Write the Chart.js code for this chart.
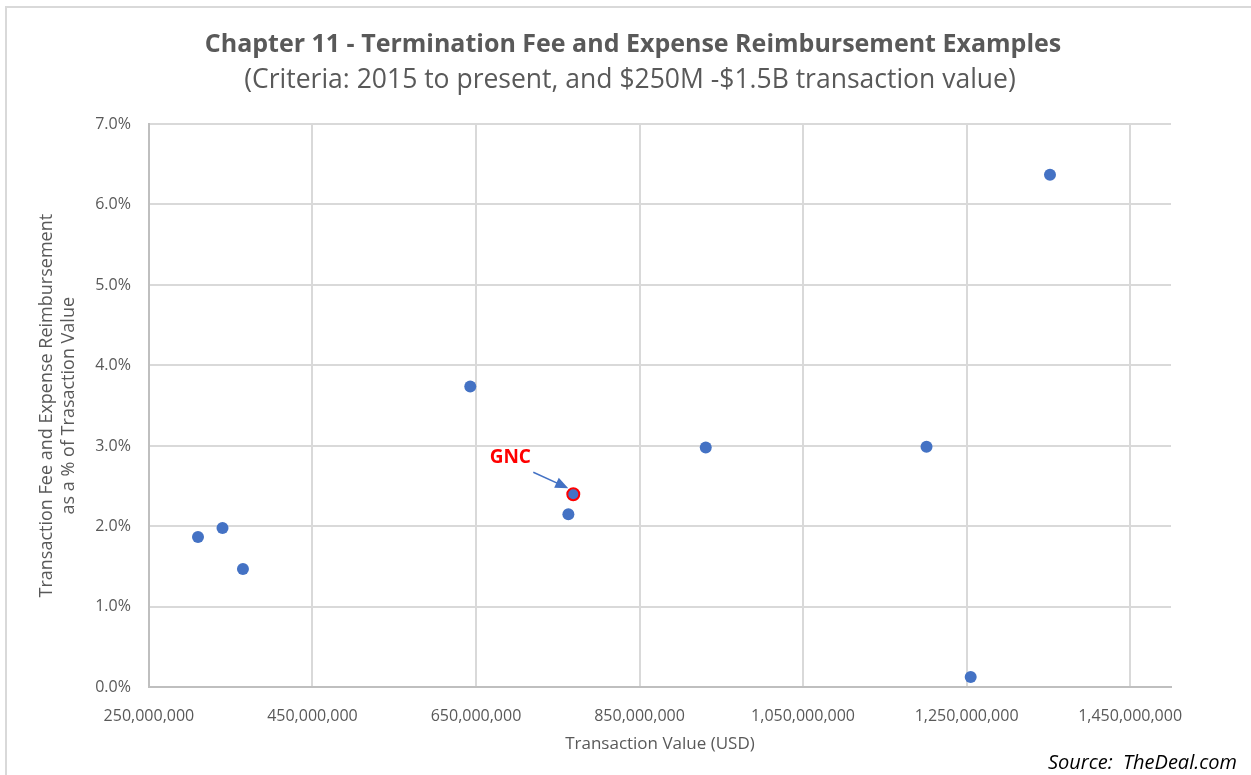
<!DOCTYPE html>
<html>
<head>
<meta charset="utf-8">
<script src="https://cdn.jsdelivr.net/npm/chart.js@4/dist/chart.umd.min.js"></script>
<style>
    html, body { margin: 0; padding: 0; background: #ffffff; }
    #wrap { position: relative; width: 1251px; height: 775px; }
</style>
</head>
<body>
<div id="wrap"><canvas id="myChart" width="1251" height="775"></canvas></div>
<script>
// deal values (USD) and fee as % of transaction value
var dealValues = [310000000, 340000000, 365000000, 643000000, 763000000, 769000000, 931000000, 1201000000, 1255000000, 1352000000];
var feePercents = [1.87, 1.98, 1.47, 3.74, 2.15, 2.40, 2.98, 2.99, 0.13, 6.37];
var dealNames = ["", "", "", "", "", "GNC", "", "", "", ""];
var xTickValues = [250000000, 450000000, 650000000, 850000000, 1050000000, 1250000000, 1450000000];
var yTickValues = [0, 1, 2, 3, 4, 5, 6, 7];

var chartTitle = "Chapter 11 - Termination Fee and Expense Reimbursement Examples";
var chartSubtitle = "(Criteria: 2015 to present, and $250M -$1.5B transaction value)";
var sourceNote = "Source:  TheDeal.com";

var TEXT_GREY = "#595959";
var POINT_BLUE = "#4472C4";

function eachItem(list, fn) {
    for (var i = 0; i < list.length; i++) {
        fn(i, list[i]);
    }
}

function buildPoints() {
    var points = [];
    eachItem(dealValues, function(index, value) {
        points.push({x: value, y: feePercents[index]});
    });
    return points;
}

function formatMoney(value) {
    return Math.round(value).toString().replace(/\B(?=(\d{3})+(?!\d))/g, ",");
}

// outer frame of the picture, light grey top and left edge, plus titles
var framePlugin = {
    id: "frame",
    beforeDraw: function(chart) {
        var ctx = chart.ctx;
        ctx.save();
        ctx.strokeStyle = "#d9d9d9";
        ctx.lineWidth = 2;
        ctx.beginPath();
        ctx.moveTo(6, chart.height);
        ctx.lineTo(6, 7);
        ctx.lineTo(chart.width, 7);
        ctx.stroke();

        ctx.fillStyle = TEXT_GREY;
        ctx.textAlign = "center";
        ctx.textBaseline = "middle";
        ctx.font = "bold 25px 'Open Sans', sans-serif";
        ctx.fillText(chartTitle, 633, 45);
        ctx.font = "26.5px 'Open Sans', sans-serif";
        ctx.fillText(chartSubtitle, 630, 80);
        ctx.restore();
    }
};

// GNC label with arrow, source note
var notesPlugin = {
    id: "notes",
    afterDraw: function(chart) {
        var ctx = chart.ctx;
        var xs = chart.scales.x;
        var ys = chart.scales.y;
        ctx.save();
        eachItem(dealNames, function(index, name) {
            if (!name) {
                return;
            }
            var px = xs.getPixelForValue(dealValues[index]);
            var py = ys.getPixelForValue(feePercents[index]);

            ctx.fillStyle = "#ff0000";
            ctx.font = "bold 19px 'Open Sans', sans-serif";
            ctx.textAlign = "center";
            ctx.textBaseline = "middle";
            ctx.fillText(name, px - 63, py - 37);

            var x0 = px - 40, y0 = py - 22;
            var x1 = px - 5, y1 = py - 6;
            var ang = Math.atan2(y1 - y0, x1 - x0);
            ctx.strokeStyle = POINT_BLUE;
            ctx.fillStyle = POINT_BLUE;
            ctx.lineWidth = 1.5;
            ctx.beginPath();
            ctx.moveTo(x0, y0);
            ctx.lineTo(x1 - 8 * Math.cos(ang), y1 - 8 * Math.sin(ang));
            ctx.stroke();
            ctx.beginPath();
            ctx.moveTo(x1, y1);
            ctx.lineTo(x1 - 13 * Math.cos(ang) + 5.5 * Math.sin(ang), y1 - 13 * Math.sin(ang) - 5.5 * Math.cos(ang));
            ctx.lineTo(x1 - 13 * Math.cos(ang) - 5.5 * Math.sin(ang), y1 - 13 * Math.sin(ang) + 5.5 * Math.cos(ang));
            ctx.closePath();
            ctx.fill();
        });

        ctx.fillStyle = "#000000";
        ctx.font = "italic 20px 'Open Sans', sans-serif";
        ctx.textAlign = "right";
        ctx.textBaseline = "middle";
        ctx.fillText(sourceNote, chart.width - 14, 763);
        ctx.restore();
    }
};

function buildChart() {
    var ctx = document.getElementById("myChart");
    var borderColors = dealNames.map(function(n) { return n ? "#ff0000" : POINT_BLUE; });
    var borderWidths = dealNames.map(function(n) { return n ? 2 : 0; });

    return new Chart(ctx, {
        type: "scatter",
        data: {
            datasets: [{
                label: "Deals",
                data: buildPoints(),
                backgroundColor: POINT_BLUE,
                borderColor: borderColors,
                borderWidth: borderWidths,
                pointRadius: 6,
                pointHoverRadius: 6
            }]
        },
        plugins: [framePlugin, notesPlugin],
        options: {
            responsive: false,
            animation: false,
            layout: {
                padding: {left: 36, right: 80, top: 124, bottom: 21}
            },
            plugins: {
                legend: {display: false},
                tooltip: {enabled: false},
                title: {display: false}
            },
            scales: {
                x: {
                    type: "linear",
                    min: 250000000,
                    max: 1500000000,
                    afterBuildTicks: function(axis) {
                        axis.ticks = xTickValues.map(function(v) { return {value: v}; });
                    },
                    grid: {color: "#d9d9d9", lineWidth: 2, drawTicks: false},
                    border: {display: true, color: "#bfbfbf", width: 2},
                    ticks: {
                        color: TEXT_GREY,
                        font: {family: "'Open Sans', sans-serif", size: 16},
                        padding: 19,
                        maxRotation: 0,
                        callback: function(value) { return formatMoney(value); }
                    },
                    title: {
                        display: true,
                        text: "Transaction Value (USD)",
                        color: TEXT_GREY,
                        font: {family: "'Open Sans', sans-serif", size: 17},
                        padding: {top: -11, bottom: 0}
                    }
                },
                y: {
                    min: 0,
                    max: 7,
                    afterBuildTicks: function(axis) {
                        axis.ticks = yTickValues.map(function(v) { return {value: v}; });
                    },
                    grid: {color: "#d9d9d9", lineWidth: 2, drawTicks: false},
                    border: {display: true, color: "#bfbfbf", width: 2},
                    ticks: {
                        color: TEXT_GREY,
                        font: {family: "'Open Sans', sans-serif", size: 16},
                        padding: 18,
                        callback: function(value) { return value.toFixed(1) + "%"; }
                    },
                    title: {
                        display: true,
                        text: ["Transaction Fee and Expense Reimbursement", "as a % of Trasaction Value"],
                        color: TEXT_GREY,
                        font: {family: "'Open Sans', sans-serif", size: 18, lineHeight: 1.2},
                        padding: {top: 0, bottom: -2}
                    }
                }
            }
        }
    });
}

var chart = buildChart();
</script>
</body>
</html>
